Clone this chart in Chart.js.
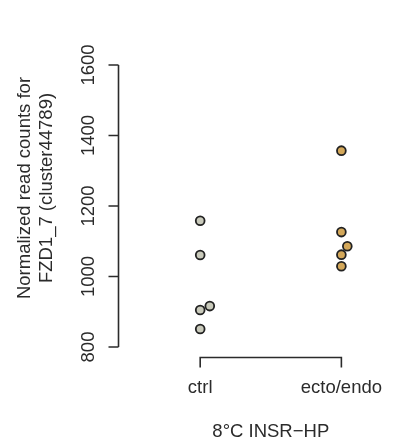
<!DOCTYPE html>
<html>
<head>
<meta charset="utf-8">
<script src="https://cdn.jsdelivr.net/npm/chart.js@4"></script>
<style>
  html, body { margin: 0; padding: 0; background: #fff; }
  #wrap { width: 397px; height: 445px; }
</style>
</head>
<body>
<div id="wrap"><canvas id="graph" width="397" height="445"></canvas></div>
<script>
// values
var groups = ["ctrl", "ecto/endo"];
var ctrlValues = [1158, 1061, 905, 916, 851];
var ctrlJitter = [0, 0, 0, 0.068, 0];
var ectoValues = [1357, 1126, 1086, 1062, 1029];
var ectoJitter = [0, 0, 0.042, 0, 0];
var yTicks = [800, 1000, 1200, 1400, 1600];
var yTitle = ["Normalized read counts for", "FZD1_7 (cluster44789)"];
var xTitle = "8°C INSR\u2212HP";

var FONT = "18.5px 'Liberation Sans', Arial, sans-serif";
var INK = "#2b2b2b";

function toPoints(values, jitter, pos) {
    var pts = [];
    for (var i = 0; i < values.length; i++) {
        pts.push({x: pos + jitter[i], y: values[i]});
    }
    return pts;
}

// R-style detached axes, drawn by hand off the chart scales
var rAxes = {
    id: "rAxes",
    afterDraw: function(chart) {
        var ctx = chart.ctx;
        var xs = chart.scales.x, ys = chart.scales.y;
        var area = chart.chartArea;
        ctx.save();
        ctx.strokeStyle = INK;
        ctx.fillStyle = INK;
        ctx.lineWidth = 1.6;
        ctx.font = FONT;

        // y axis
        var ax = Math.round(area.left - 19) + 0.5;
        var yLo = ys.getPixelForValue(yTicks[0]);
        var yHi = ys.getPixelForValue(yTicks[yTicks.length - 1]);
        ctx.beginPath();
        ctx.moveTo(ax, yLo);
        ctx.lineTo(ax, yHi);
        yTicks.forEach(function(t) {
            var py = ys.getPixelForValue(t);
            ctx.moveTo(ax, py);
            ctx.lineTo(ax - 10, py);
        });
        ctx.stroke();
        ctx.textAlign = "center";
        ctx.textBaseline = "middle";
        yTicks.forEach(function(t) {
            var py = ys.getPixelForValue(t);
            ctx.save();
            ctx.translate(ax - 30, py);
            ctx.rotate(-Math.PI / 2);
            ctx.fillText(String(t), 0, 0);
            ctx.restore();
        });

        // y title, two lines
        ctx.save();
        ctx.translate(25, 188);
        ctx.rotate(-Math.PI / 2);
        ctx.fillText(yTitle[0], 0, 0);
        ctx.fillText(yTitle[1], 0, 22);
        ctx.restore();

        // x axis bracket
        var by = Math.round(yLo + 10) + 0.5;
        var x1 = xs.getPixelForValue(1), x2 = xs.getPixelForValue(2);
        ctx.beginPath();
        ctx.moveTo(x1, by + 10);
        ctx.lineTo(x1, by);
        ctx.lineTo(x2, by);
        ctx.lineTo(x2, by + 10);
        ctx.stroke();
        groups.forEach(function(g, i) {
            ctx.fillText(g, xs.getPixelForValue(i + 1), by + 30);
        });
        ctx.fillText(xTitle, (x1 + x2) / 2, by + 74);
        ctx.restore();
    }
};

var ctx = document.getElementById("graph").getContext("2d");
var chart = new Chart(ctx, {
    type: "scatter",
    data: {
        datasets: [{
            label: groups[0],
            data: toPoints(ctrlValues, ctrlJitter, 1),
            backgroundColor: "#c9cabb",
            borderColor: "#222",
            borderWidth: 1.8,
            pointRadius: 4.4
        }, {
            label: groups[1],
            data: toPoints(ectoValues, ectoJitter, 2),
            backgroundColor: "#d4a85a",
            borderColor: "#222",
            borderWidth: 1.8,
            pointRadius: 4.4
        }]
    },
    options: {
        responsive: false,
        animation: false,
        clip: false,
        layout: {
            padding: {left: 136.65, right: 2.95, top: 61.475, bottom: 94.475}
        },
        scales: {
            x: {type: "linear", min: 0.55, max: 2.35, display: false},
            y: {type: "linear", min: 790, max: 1610, display: false}
        },
        plugins: {
            legend: {display: false},
            tooltip: {enabled: false}
        }
    },
    plugins: [rAxes]
});
</script>
</body>
</html>
